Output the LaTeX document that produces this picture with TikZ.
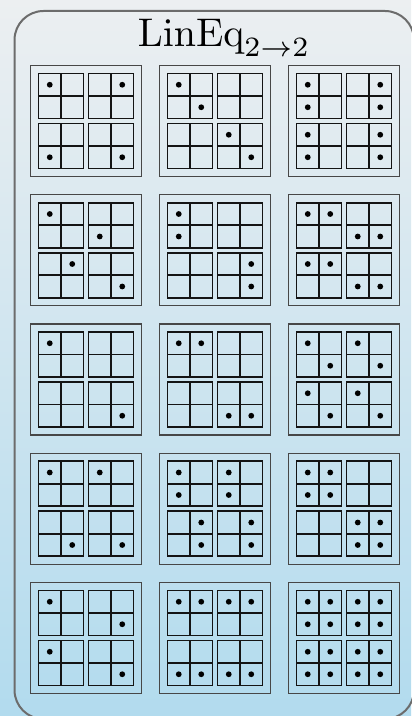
\documentclass[tikz,border=0pt]{standalone}
\usepackage{tikz}
\definecolor{leqink}{HTML}{141414}
\definecolor{leqedge}{HTML}{6C6C6C}
\definecolor{leqbox}{HTML}{474747}
\definecolor{leqtop}{HTML}{ECEFF1}
\definecolor{leqmid}{HTML}{C3E1EE}
\definecolor{leqbot}{HTML}{B2DBEE}
\tikzset{
  panel/.style={draw=leqedge, line width=0.5pt, rounded corners=7.25pt},
  cellbox/.style={draw=leqbox, line width=0.35pt, minimum size=27.75pt, inner sep=0pt},
  blkline/.style={draw=leqink, line width=0.45pt},
  pip/.style={fill=black},
  ttl/.style={anchor=base, inner sep=0pt},
}
% one cell: name, x, y, dots as row/col in the 4x4 grid
\newcommand{\eqcell}[4]{%
  \node[cellbox] (#1) at (#2,#3) {};
  \foreach \bi in {0,1}{\foreach \bj in {0,1}{
    \draw[blkline] ([shift={({-47.5+50*\bj},{-47.5+50*\bi})}]#1.center) rectangle ++(45,45)
      ([shift={({-25+50*\bj},{-47.5+50*\bi})}]#1.center) -- ++(0,45)
      ([shift={({-47.5+50*\bj},{-25+50*\bi})}]#1.center) -- ++(45,0);
  }}
  \foreach \pr/\pc in {#4}
    \fill[pip] ([shift={({-36.25+22.5*\pc+5*int(\pc/2)},{-36.25+22.5*\pr+5*int(\pr/2)})}]#1.center) circle[radius=2.9];
}

\begin{document}
\begin{tikzpicture}[x=0.25pt, y=-0.25pt, font=\normalsize]
  \useasboundingbox (0,0) rectangle (411,716);
  \shade[top color=leqtop, middle color=leqmid, bottom color=leqbot] (0,0) rectangle (411,716);
  \draw[panel] (14.5,11) rectangle (414,719);
  \node[ttl] (title) at (224,47) {$\mathrm{LinEq}_{2\to2}$};

  \eqcell{c11}{86}{121}{0/0,0/3,3/0,3/3}
  \eqcell{c12}{215}{121}{0/0,1/1,2/2,3/3}
  \eqcell{c13}{344}{121}{0/0,1/0,0/3,1/3,2/0,3/0,2/3,3/3}

  \eqcell{c21}{86}{250.25}{0/0,1/2,2/1,3/3}
  \eqcell{c22}{215}{250.25}{0/0,1/0,2/3,3/3}
  \eqcell{c23}{344}{250.25}{0/0,0/1,1/2,1/3,2/0,2/1,3/2,3/3}

  \eqcell{c31}{86}{379.5}{0/0,3/3}
  \eqcell{c32}{215}{379.5}{0/0,0/1,3/2,3/3}
  \eqcell{c33}{344}{379.5}{0/0,1/1,0/2,1/3,2/0,3/1,2/2,3/3}

  \eqcell{c41}{86}{508.75}{0/0,0/2,3/1,3/3}
  \eqcell{c42}{215}{508.75}{0/0,1/0,0/2,1/2,2/1,3/1,2/3,3/3}
  \eqcell{c43}{344}{508.75}{0/0,0/1,1/0,1/1,2/2,2/3,3/2,3/3}

  \eqcell{c51}{86}{638}{0/0,1/3,2/0,3/3}
  \eqcell{c52}{215}{638}{0/0,0/1,0/2,0/3,3/0,3/1,3/2,3/3}
  \eqcell{c53}{344}{638}{0/0,0/1,0/2,0/3,1/0,1/1,1/2,1/3,2/0,2/1,2/2,2/3,3/0,3/1,3/2,3/3}
\end{tikzpicture}
\end{document}
